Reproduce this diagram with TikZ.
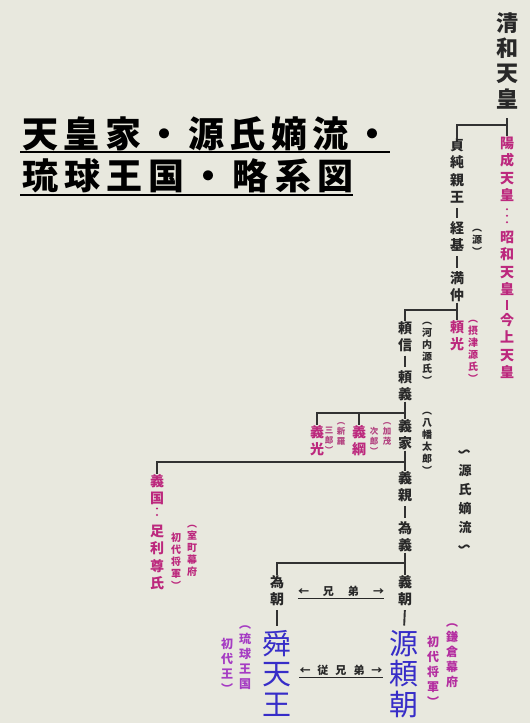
\documentclass[tikz,border=0pt]{standalone}
\usepackage{fontspec}
\usetikzlibrary{calc}
\newfontfamily\cjk[RawFeature=+vert]{Noto Sans CJK JP}
\newfontfamily\cjkh{Noto Sans CJK JP}
\definecolor{bgc}{RGB}{232,232,222}
\definecolor{ink}{RGB}{40,40,40}
\definecolor{lnc}{RGB}{50,50,50}
\definecolor{mag}{RGB}{188,40,125}
\definecolor{magt}{RGB}{180,70,130}
\definecolor{blu}{RGB}{55,45,200}
\definecolor{vio}{RGB}{165,60,195}
\definecolor{magv}{RGB}{180,45,160}
\newlength\vtgap
\newcommand\vwave{\rotatebox[origin=c]{90}{〜}}
\makeatletter
\def\vt@end{\vt@end@}
\def\vt#1{\vbox{\offinterlineskip\vt@loop#1\vt@end\unskip}}
\def\vt@loop#1{\ifx\vt@end#1\else\hbox to 1em{\vrule height .88em depth .12em width 0pt\hss\smash{#1}\hss}\vskip\vtgap\relax\expandafter\vt@loop\fi}
\makeatother
\tikzset{
 vbase/.style={inner sep=0pt, anchor=north},
 nm/.style={vbase, text=ink, font=\cjk\bfseries\fontsize{14}{14}\selectfont\setlength\vtgap{3.3pt}},
 nmm/.style={nm, text=mag},
 topn/.style={vbase, text=ink, font=\cjk\bfseries\fontsize{22}{22}\selectfont\setlength\vtgap{3.2pt}},
 bign/.style={vbase, text=blu, font=\cjk\fontsize{29}{29}\selectfont\setlength\vtgap{1.2pt}},
 nt/.style={vbase, text=ink, font=\cjk\bfseries\fontsize{10}{10}\selectfont\setlength\vtgap{2pt}},
 ntm/.style={nt, text=mag},
 ntt/.style={vbase, text=magt, font=\cjk\bfseries\fontsize{8.5}{8.5}\selectfont\setlength\vtgap{1.2pt}},
 ntb/.style={vbase, font=\cjk\bfseries\fontsize{12}{12}\selectfont\setlength\vtgap{3pt}},
 chak/.style={vbase, text=ink, font=\cjk\bfseries\fontsize{13}{13}\selectfont\setlength\vtgap{6pt}},
 hz/.style={inner sep=0pt, text=ink, font=\cjkh\bfseries\fontsize{11}{11}\selectfont},
 ttl/.style={inner sep=0pt, anchor=base west, text=black, font=\cjkh\bfseries\fontsize{36}{36}\selectfont},
 ln/.style={draw=lnc, line width=1.9pt},
 barln/.style={ln, shorten <=3.5pt, shorten >=3.5pt},
 dotln/.style={line width=2.2pt, line cap=round, dash pattern=on 0pt off 6.5pt},
 uline/.style={draw=black, line width=2.2pt},
}
\begin{document}
\begin{tikzpicture}[x=1pt,y=-1pt]
\fill[bgc] (0,0) rectangle (530,723);
\useasboundingbox (0,0) rectangle (530,723);

% title
\node[ttl] (t1) at (22,147.5) {\hbox to 368pt{天\hfill 皇\hfill 家\hfill ・\hfill 源\hfill 氏\hfill 嫡\hfill 流\hfill ・}};
\node[ttl] (t2) at (22,189.5) {\hbox to 331pt{琉\hfill 球\hfill 王\hfill 国\hfill ・\hfill 略\hfill 系\hfill 図}};
\draw[uline] ($(t1.base west)+(-2,4.5)$) -- ($(t1.base east)+(0,4.5)$);
\draw[uline] ($(t2.base west)+(-2,5.5)$) -- ($(t2.base east)+(0,5.5)$);

% emperors
\node[topn] (seiwa) at (507,12) {\vt{清和天皇}};
\node[nmm] (yozei) at (507,136) {\vt{陽成天皇}};
\node[nmm] (showa) at (507,230) {\vt{昭和天皇}};
\node[nmm] (kinjo) at (507,313) {\vt{今上天皇}};
\coordinate (j1) at (507,125);
\draw[ln, shorten <=8pt] (seiwa.south) -- (yozei.north);
\draw[dotln, draw=mag, shorten <=7pt, shorten >=5pt] (yozei.south) -- (showa.north);
\draw[barln, draw=mag] (showa.south) -- (kinjo.north);

% Genji line
\node[nm] (sada) at (457,138) {\vt{貞純親王}};
\node[nm] (tsune) at (457,221) {\vt{経基}};
\node[nm] (mitsu) at (457,271) {\vt{満仲}};
\node[nt] (gen) at (477,222) {\vt{︵源︶}};
\draw[ln] (sada.north) |- (j1);
\draw[barln] (sada.south) -- (tsune.north);
\draw[barln] (tsune.south) -- (mitsu.north);

\node[nmm] (yorimitsu) at (457,320) {\vt{頼光}};
\node[ntm] (settsu) at (473,313) {\vt{︵摂津源氏︶}};
\node[nm] (yorinobu) at (405,321) {\vt{頼信}};
\node[nt] (kawachi) at (427,315) {\vt{︵河内源氏︶}};
\coordinate (j2) at (457,310);
\draw[ln] (mitsu.south) -- (yorimitsu.north);
\draw[ln] (yorinobu.north) |- (j2);

\node[nm] (yoriyoshi) at (405,370) {\vt{頼義}};
\draw[barln, shorten <=3pt] (yorinobu.south) -- (yoriyoshi.north);

\node[nm] (yoshiie) at (405,419) {\vt{義家}};
\node[nt] (hachiman) at (427,405) {\vt{︵八幡太郎︶}};
\node[nmm] (yoshimitsu) at (317,425) {\vt{義光}};
\node[nmm] (yoshitsuna) at (359,425) {\vt{義綱}};
\node[ntt] (shira1) at (341,417) {\vt{︵新羅}};
\node[ntt] (shira2) at (329,426) {\vt{三郎︶}};
\node[ntt] (kamo1) at (387,417) {\vt{︵加茂}};
\node[ntt] (kamo2) at (374,427) {\vt{次郎︶}};
\coordinate (j3) at (405,413);
\draw[ln] (yoriyoshi.south) -- (yoshiie.north);
\draw[ln] (yoshimitsu.north) |- (j3);
\draw[ln] (yoshitsuna.north) -- (yoshitsuna.north |- j3);

\node[nm] (yoshichika) at (405,471) {\vt{義親}};
\node[nmm] (yoshikuni) at (157,474) {\vt{義国}};
\node[nmm] (takauji) at (157,524) {\vt{足利尊氏}};
\node[ntm] (muro1) at (192,518) {\vt{︵室町幕府}};
\node[ntm] (muro2) at (176,532) {\vt{初代将軍︶}};
\coordinate (j4) at (405,462);
\draw[ln] (yoshiie.south) -- (yoshichika.north);
\draw[ln] (yoshikuni.north) |- (j4);
\draw[dotln, draw=mag, shorten <=2.7pt, shorten >=3.5pt] (yoshikuni.south) -- (takauji.north);

\node[chak] (chaku) at (465,445) {\vt{\vwave 源氏嫡流\vwave}};

\node[nm] (tameyoshi) at (405,521) {\vt{為義}};
\draw[barln] (yoshichika.south) -- (tameyoshi.north);

\node[nm] (yoshitomo) at (405,575) {\vt{義朝}};
\node[nm] (tametomo) at (277,575) {\vt{為朝}};
\coordinate (j5) at (405,563);
\draw[ln] (tameyoshi.south) -- (yoshitomo.north);
\draw[ln] (tametomo.north) |- (j5);

\node[bign] (yoritomo) at (404,629) {\vt{源頼朝}};
\node[bign] (shunten) at (277,629) {\vt{舜天王}};
\draw[barln] (yoshitomo.south) -- (yoritomo.north);
\draw[barln] (tametomo.south) -- (shunten.north);

\node[ntb, text=magv] (kama1) at (452,616) {\vt{︵鎌倉幕府}};
\node[ntb, text=magv] (kama2) at (433,636) {\vt{初代将軍︶}};
\node[ntb, text=vio] (ryu1) at (245,618) {\vt{︵琉球王国}};
\node[ntb, text=vio] (ryu2) at (227,638) {\vt{初代王︶}};

\node[hz] (kyodai) at (341,591) {←\hspace{14pt}兄\hspace{14pt}弟\hspace{14pt}→};
\draw[draw=ink, line width=1pt] ($(kyodai.west)+(0,7)$) -- ($(kyodai.east)+(0,7)$);
\node[hz] (jukyo) at (341,670) {←\hspace{7pt}従\hspace{7pt}兄\hspace{7pt}弟\hspace{7pt}→};
\draw[draw=ink, line width=1pt] ($(jukyo.west)+(0,7)$) -- ($(jukyo.east)+(0,7)$);
\end{tikzpicture}
\end{document}
